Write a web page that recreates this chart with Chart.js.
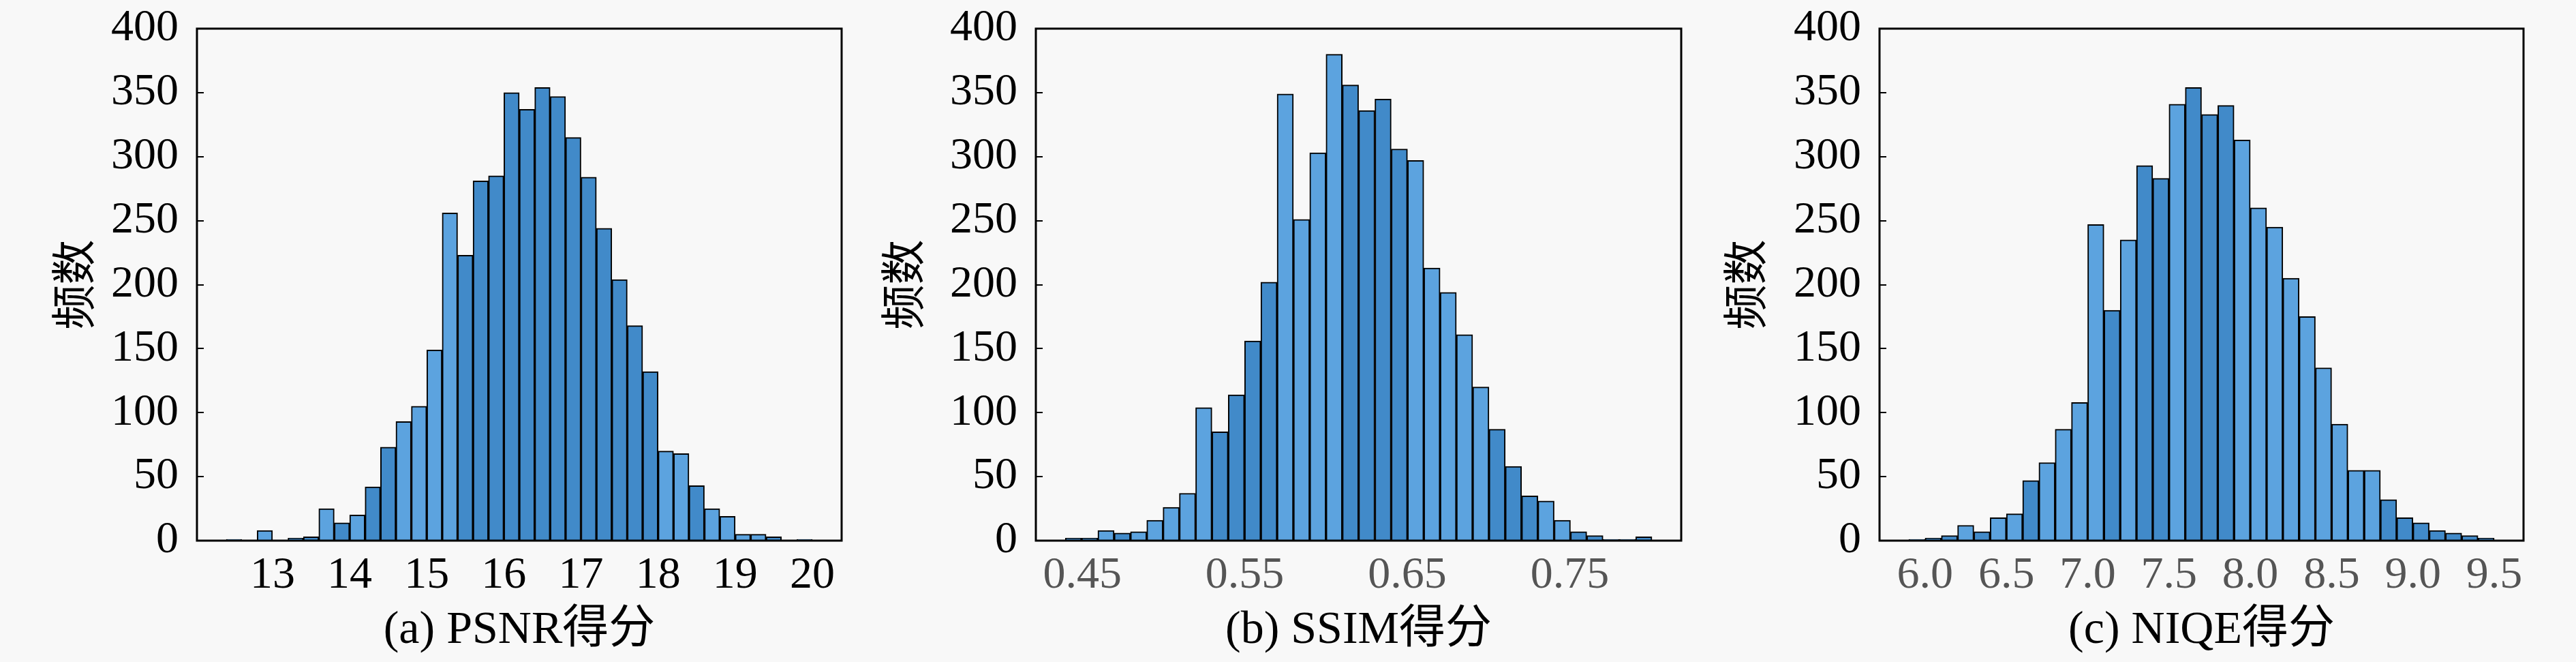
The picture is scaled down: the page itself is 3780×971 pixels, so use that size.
<!DOCTYPE html>
<html>
<head>
<meta charset="utf-8">
<script src="https://cdn.jsdelivr.net/npm/chart.js@4.4.1/dist/chart.umd.min.js"></script>
<style>
  body { margin: 0; background: #f8f8f8; overflow: hidden; }
  .panel { position: absolute; top: 0; width: 1260px; height: 971px; }
</style>
</head>
<body>
<div class="panel" style="left:0px"><canvas id="psnr"></canvas></div>
<div class="panel" style="left:1260px"><canvas id="ssim"></canvas></div>
<div class="panel" style="left:2520px"><canvas id="niqe"></canvas></div>
<script>
'use strict';

// histogram counts
const psnrCounts = [1, 0, 8, 0, 2, 3, 25, 14, 20, 42, 73, 93, 105, 149, 256, 223, 281, 285, 350, 337,
  354, 347, 315, 284, 244, 204, 168, 132, 70, 68, 43, 25, 19, 5, 5, 3, 0, 1];
const psnrStart = 12.4;
const psnrBin = 0.2;
const psnrTicks = ['13', '14', '15', '16', '17', '18', '19', '20'];
const psnrShade = 'DDLDDDLDLD' + 'DLLLLDDDDD' + 'DDDDDDDDLL' + 'DLLLLDDD';

const ssimCounts = [2, 2, 8, 6, 7, 16, 26, 37, 104, 85, 114, 156, 202, 349, 251, 303, 380, 356, 336, 345,
  306, 297, 213, 194, 161, 120, 87, 58, 35, 31, 16, 7, 4, 1, 1, 3];
const ssimStart = 0.4395;
const ssimBin = 0.01003;
const ssimTicks = ['0.45', '0.55', '0.65', '0.75'];
const ssimShade = 'DDLDLLLLLD' + 'DDDLLLLDDD' + 'DLLLLLDDDL' + 'LDDDDD';

const niqeCounts = [1, 2, 4, 12, 7, 18, 21, 47, 61, 87, 108, 247, 180, 235, 293, 283, 341, 354, 333, 340,
  313, 260, 245, 205, 175, 135, 91, 55, 55, 32, 18, 14, 8, 6, 4, 2];
const niqeStart = 5.9;
const niqeBin = 0.1;
const niqeTicks = ['6.0', '6.5', '7.0', '7.5', '8.0', '8.5', '9.0', '9.5'];
const niqeShade = 'DDDLDLLDLL' + 'LLDLDDLDDD' + 'LLLLLLLLLD' + 'DDDDDD';

const yTitle = '频数';

const LIGHT = '#5ca3df';
const DARK = '#418ac9';
const SERIF = "'Liberation Serif', 'Times New Roman', 'Noto Sans CJK SC', serif";
const CJK = "'Noto Sans CJK SC', sans-serif";

const frame = {
  id: 'frame',
  afterDatasetsDraw(chart) {
    const { ctx, chartArea: a } = chart;
    ctx.save();
    ctx.strokeStyle = '#000';
    ctx.lineWidth = 3;
    ctx.strokeRect(a.left, a.top, a.right - a.left, a.bottom - a.top);
    ctx.restore();
  }
};

function renderHist(id, counts, start, bin, shade, ticks, opts) {
  const points = counts.map((c, i) => ({ x: start + (i + 0.5) * bin, y: c }));

  new Chart(document.getElementById(id), {
    type: 'bar',
    data: {
      datasets: [{
        data: points,
        backgroundColor: shade.split('').map(s => (s === 'L' ? LIGHT : DARK)),
        borderColor: '#000',
        borderWidth: 2,
        barPercentage: 1,
        categoryPercentage: 1
      }]
    },
    options: {
      responsive: true,
      maintainAspectRatio: false,
      animation: false,
      layout: { padding: { top: 42, right: opts.padRight, left: 0, bottom: 0 } },
      plugins: { legend: { display: false }, tooltip: { enabled: false } },
      scales: {
        x: {
          type: 'linear',
          min: opts.min,
          max: opts.max,
          offset: false,
          afterBuildTicks: s => { s.ticks = ticks.map(t => ({ value: Number(t) })); },
          afterFit: s => { s.height = 178; },
          ticks: {
            callback: (v, i) => ticks[i],
            font: { size: 66, family: SERIF },
            color: opts.tickColor,
            padding: 12,
            maxRotation: 0,
            autoSkip: false
          },
          grid: { display: false, drawTicks: false },
          border: { display: false },
          title: {
            display: true,
            text: opts.title,
            font: { size: 68, family: SERIF },
            color: '#000',
            padding: { top: 0, bottom: 5 }
          }
        },
        y: {
          min: 0,
          max: 400,
          afterFit: s => { s.width = opts.plotLeft; s.paddingTop = 0; s.paddingBottom = 0; },
          ticks: { stepSize: 50, font: { size: 66, family: SERIF }, color: '#000', padding: 37 },
          grid: { drawOnChartArea: false, drawTicks: true, tickLength: -10, color: '#000', lineWidth: 2 },
          border: { display: false },
          title: {
            display: true,
            text: yTitle,
            font: { size: 66, family: CJK },
            color: '#000',
            padding: { top: opts.titlePad, bottom: 0 }
          }
        }
      }
    },
    plugins: [frame]
  });
}

renderHist('psnr', psnrCounts, psnrStart, psnrBin, psnrShade, psnrTicks,
  { min: 12.02, max: 20.38, plotLeft: 289, padRight: 25, titlePad: 67, tickColor: '#000', title: '(a) PSNR得分' });
renderHist('ssim', ssimCounts, ssimStart, ssimBin, ssimShade, ssimTicks,
  { min: 0.4214, max: 0.8186, plotLeft: 260, padRight: 53, titlePad: 24, tickColor: '#555', title: '(b) SSIM得分' });
renderHist('niqe', niqeCounts, niqeStart, niqeBin, niqeShade, niqeTicks,
  { min: 5.72, max: 9.68, plotLeft: 238, padRight: 77, titlePad: 0, tickColor: '#555', title: '(c) NIQE得分' });
</script>
</body>
</html>
